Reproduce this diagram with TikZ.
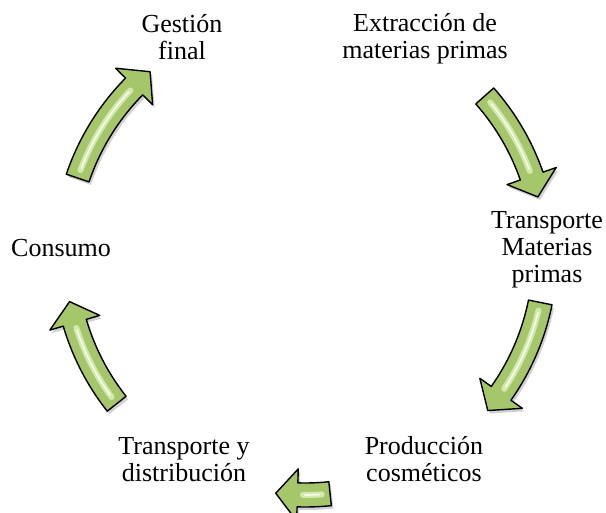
\documentclass[tikz,border=0pt]{standalone}
\usepackage{fontspec}
\setmainfont{Liberation Serif}
\definecolor{arrowgreen}{HTML}{A6C66C}
\definecolor{arrowlight}{HTML}{D2E8AC}
\tikzset{
  stage/.style={align=center, inner sep=0pt, anchor=base, font=\fontsize{26}{27}\selectfont},
  blockarrow/.style={draw=black, line width=1.4pt, fill=arrowgreen, line join=round},
  arrowshadow/.style={fill=black, opacity=0.18},
  gloss/.style={line width=6pt, arrowlight, line cap=round},
  glosscore/.style={line width=1.6pt, white, opacity=0.8, line cap=round},
}
% curved block arrow on the cycle: #1 tail angle, #2 tip angle
\newcommand{\cyclearrow}[2]{
  \fill[arrowshadow, shift={(2,-3)}] (#1:252) arc[start angle=#1, end angle=#2+5.2, radius=252] -- (#2+5.2:266) -- (#2:240) -- (#2+5.2:214) -- (#2+5.2:228) arc[start angle=#2+5.2, end angle=#1, radius=228] -- cycle;
  \draw[blockarrow] (#1:252) arc[start angle=#1, end angle=#2+5.2, radius=252] -- (#2+5.2:266) -- (#2:240) -- (#2+5.2:214) -- (#2+5.2:228) arc[start angle=#2+5.2, end angle=#1, radius=228] -- cycle;
  \draw[gloss] (#1-2:240) arc[start angle=#1-2, end angle=#2+6.5, radius=240];
  \draw[glosscore] (#1-2.5:240) arc[start angle=#1-2.5, end angle=#2+7, radius=240];
}
\begin{document}
\begin{tikzpicture}[x=1pt, y=1pt]
  \useasboundingbox (0,0) rectangle (606,-513);
  \coordinate (hub) at (305,-255);

  % anchor base = baseline of the last line
  \node[stage] (final) at (182,-60) {Gestión\\final};
  \node[stage] (extraction) at (425,-59) {Extracción de\\materias primas};
  \node[stage] (rawtransport) at (547,-283) {Transporte\\Materias\\primas};
  \node[stage] (production) at (424,-482) {Producción\\cosméticos};
  \node[stage] (distribution) at (184,-482) {Transporte y\\distribución};
  \node[stage] (consume) at (61,-257) {Consumo};

  \begin{scope}[shift={(hub)}]
    \cyclearrow{41.5}{14}
    \cyclearrow{-11.4}{-40.4}
    \cyclearrow{-84}{-97}
    \cyclearrow{-141.7}{-168.8}
    \cyclearrow{161.3}{130.2}
  \end{scope}
\end{tikzpicture}
\end{document}
